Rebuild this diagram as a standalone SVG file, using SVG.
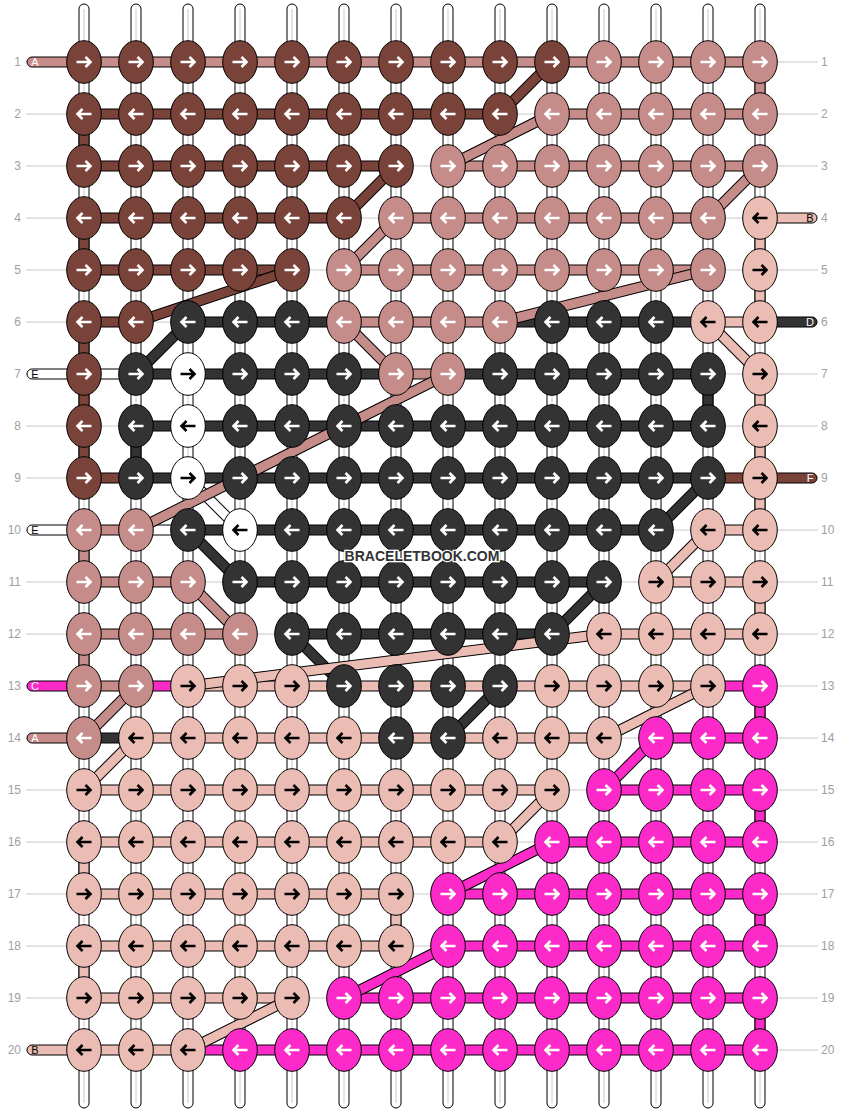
<svg xmlns="http://www.w3.org/2000/svg" xmlns:xlink="http://www.w3.org/1999/xlink" width="844" height="1112" viewBox="0 0 844 1112">
<style>
.b{fill:#7a4339}.p{fill:#c68c89}.l{fill:#eabcb3}.g{fill:#333333}.w{fill:#ffffff}.m{fill:#fb2ac9}
ellipse{rx:17.3px;ry:21.3px;stroke:#000;stroke-width:1}
use{stroke:#fff}
.l use,.w use{stroke:#000}
#bars rect,#vsegs rect,#pills path{stroke:#000;stroke-width:1}
#strings rect{fill:#fff;stroke:#000;stroke-width:1}
#strings line{stroke:#c8c8c8;stroke-width:1}
.o{fill:none;stroke:#000;stroke-width:11}
.d{fill:none;stroke-width:9}
.sb{stroke:#7a4339}.sp{stroke:#c68c89}.sl{stroke:#eabcb3}.sg{stroke:#333333}.sw{stroke:#ffffff}.sm{stroke:#fb2ac9}
.rl{font-family:"Liberation Sans",Arial,sans-serif;font-size:12px;fill:#a0a0a0}
.pt{font-family:"Liberation Sans",Arial,sans-serif;font-size:11px;text-anchor:middle}
</style>
<defs>
<path id="R" d="M-7.5,0H5M1.5,-5L6.5,0L1.5,5" fill="none" stroke-width="2.6"/>
<path id="L" d="M7.5,0H-5M-1.5,-5L-6.5,0L-1.5,5" fill="none" stroke-width="2.6"/>
</defs>
<rect width="844" height="1112" fill="#fff"/>
<g id="guides" stroke="#c8c8c8" stroke-width="1" fill="none">
<path d="M26,62H818M26,114H818M26,166H818M26,218H818M26,270H818M26,322H818M26,374H818M26,426H818M26,478H818M26,530H818M26,582H818M26,634H818M26,686H818M26,738H818M26,790H818M26,842H818M26,894H818M26,946H818M26,998H818M26,1050H818"/>
</g>
<g id="strings">
<rect x="79" y="4" width="10" height="1104" rx="5"/><line x1="84" y1="9" x2="84" y2="1103"/>
<rect x="131" y="4" width="10" height="1104" rx="5"/><line x1="136" y1="9" x2="136" y2="1103"/>
<rect x="183" y="4" width="10" height="1104" rx="5"/><line x1="188" y1="9" x2="188" y2="1103"/>
<rect x="235" y="4" width="10" height="1104" rx="5"/><line x1="240" y1="9" x2="240" y2="1103"/>
<rect x="287" y="4" width="10" height="1104" rx="5"/><line x1="292" y1="9" x2="292" y2="1103"/>
<rect x="339" y="4" width="10" height="1104" rx="5"/><line x1="344" y1="9" x2="344" y2="1103"/>
<rect x="391" y="4" width="10" height="1104" rx="5"/><line x1="396" y1="9" x2="396" y2="1103"/>
<rect x="443" y="4" width="10" height="1104" rx="5"/><line x1="448" y1="9" x2="448" y2="1103"/>
<rect x="495" y="4" width="10" height="1104" rx="5"/><line x1="500" y1="9" x2="500" y2="1103"/>
<rect x="547" y="4" width="10" height="1104" rx="5"/><line x1="552" y1="9" x2="552" y2="1103"/>
<rect x="599" y="4" width="10" height="1104" rx="5"/><line x1="604" y1="9" x2="604" y2="1103"/>
<rect x="651" y="4" width="10" height="1104" rx="5"/><line x1="656" y1="9" x2="656" y2="1103"/>
<rect x="703" y="4" width="10" height="1104" rx="5"/><line x1="708" y1="9" x2="708" y2="1103"/>
<rect x="755" y="4" width="10" height="1104" rx="5"/><line x1="760" y1="9" x2="760" y2="1103"/>
</g>
<g id="connectors">
<g id="bars">
<rect class="p" x="84" y="57" width="676" height="10"/>
<rect class="b" x="84" y="109" width="416" height="10"/><rect class="p" x="552" y="109" width="208" height="10"/>
<rect class="b" x="84" y="161" width="312" height="10"/><rect class="p" x="448" y="161" width="312" height="10"/>
<rect class="b" x="84" y="213" width="260" height="10"/><rect class="p" x="396" y="213" width="312" height="10"/>
<rect class="b" x="84" y="265" width="208" height="10"/><rect class="p" x="344" y="265" width="364" height="10"/>
<rect class="b" x="84" y="317" width="52" height="10"/><rect class="g" x="188" y="317" width="156" height="10"/><rect class="p" x="344" y="317" width="156" height="10"/><rect class="g" x="500" y="317" width="208" height="10"/><rect class="l" x="708" y="317" width="52" height="10"/>
<rect class="w" x="84" y="369" width="52" height="10"/><rect class="g" x="136" y="369" width="260" height="10"/><rect class="p" x="396" y="369" width="52" height="10"/><rect class="g" x="448" y="369" width="260" height="10"/>
<rect class="g" x="136" y="421" width="572" height="10"/>
<rect class="b" x="84" y="473" width="52" height="10"/><rect class="g" x="136" y="473" width="572" height="10"/><rect class="b" x="708" y="473" width="52" height="10"/>
<rect class="p" x="84" y="525" width="52" height="10"/><rect class="w" x="136" y="525" width="52" height="10"/><rect class="g" x="188" y="525" width="468" height="10"/><rect class="l" x="708" y="525" width="52" height="10"/>
<rect class="p" x="84" y="577" width="104" height="10"/><rect class="g" x="240" y="577" width="364" height="10"/><rect class="l" x="656" y="577" width="104" height="10"/>
<rect class="p" x="84" y="629" width="156" height="10"/><rect class="g" x="292" y="629" width="260" height="10"/><rect class="l" x="604" y="629" width="156" height="10"/>
<rect class="p" x="84" y="681" width="52" height="10"/><rect class="m" x="136" y="681" width="52" height="10"/><rect class="l" x="188" y="681" width="520" height="10"/><rect class="m" x="708" y="681" width="52" height="10"/>
<rect class="g" x="84" y="733" width="52" height="10"/><rect class="l" x="136" y="733" width="468" height="10"/><rect class="m" x="656" y="733" width="104" height="10"/>
<rect class="l" x="84" y="785" width="468" height="10"/><rect class="m" x="604" y="785" width="156" height="10"/>
<rect class="l" x="84" y="837" width="416" height="10"/><rect class="m" x="552" y="837" width="208" height="10"/>
<rect class="l" x="84" y="889" width="312" height="10"/><rect class="m" x="448" y="889" width="312" height="10"/>
<rect class="l" x="84" y="941" width="312" height="10"/><rect class="m" x="448" y="941" width="312" height="10"/>
<rect class="l" x="84" y="993" width="208" height="10"/><rect class="m" x="344" y="993" width="416" height="10"/>
<rect class="l" x="84" y="1045" width="104" height="10"/><rect class="m" x="188" y="1045" width="572" height="10"/>
</g>
<g id="vsegs">
<rect class="b" x="79" y="114" width="10" height="52"/>
<rect class="b" x="79" y="218" width="10" height="52"/>
<rect class="b" x="79" y="322" width="10" height="52"/>
<rect class="b" x="79" y="374" width="10" height="52"/>
<rect class="b" x="79" y="426" width="10" height="52"/>
<rect class="p" x="79" y="530" width="10" height="52"/>
<rect class="p" x="79" y="634" width="10" height="52"/>
<rect class="l" x="79" y="842" width="10" height="52"/>
<rect class="l" x="79" y="946" width="10" height="52"/>
<rect class="p" x="755" y="62" width="10" height="52"/>
<rect class="l" x="755" y="218" width="10" height="52"/>
<rect class="l" x="755" y="270" width="10" height="52"/>
<rect class="l" x="755" y="374" width="10" height="52"/>
<rect class="l" x="755" y="426" width="10" height="52"/>
<rect class="l" x="755" y="478" width="10" height="52"/>
<rect class="l" x="755" y="582" width="10" height="52"/>
<rect class="m" x="755" y="686" width="10" height="52"/>
<rect class="m" x="755" y="790" width="10" height="52"/>
<rect class="m" x="755" y="894" width="10" height="52"/>
<rect class="m" x="755" y="998" width="10" height="52"/>
<rect class="g" x="131" y="426" width="10" height="52"/>
<rect class="g" x="703" y="374" width="10" height="52"/>
<rect class="l" x="391" y="894" width="10" height="52"/>
</g>
<g id="diagonals">
<path class="o" d="M552,62L500,114"/><path class="d sb" d="M552,62L500,114"/>
<path class="o" d="M552,114L448,166"/><path class="d sp" d="M552,114L448,166"/>
<path class="o" d="M396,166L344,218"/><path class="d sb" d="M396,166L344,218"/>
<path class="o" d="M760,166L708,218"/><path class="d sp" d="M760,166L708,218"/>
<path class="o" d="M396,218L344,270"/><path class="d sp" d="M396,218L344,270"/>
<path class="o" d="M292,270L136,322"/><path class="d sb" d="M292,270L136,322"/>
<path class="o" d="M708,270L500,322"/><path class="d sp" d="M708,270L500,322"/>
<path class="o" d="M188,322L136,374"/><path class="d sg" d="M188,322L136,374"/>
<path class="o" d="M344,322L396,374"/><path class="d sp" d="M344,322L396,374"/>
<path class="o" d="M708,322L760,374"/><path class="d sl" d="M708,322L760,374"/>
<path class="o" d="M188,478L240,530"/><path class="d sw" d="M188,478L240,530"/>
<path class="o" d="M448,374L136,530"/><path class="d sp" d="M448,374L136,530"/>
<path class="o" d="M708,478L656,530"/><path class="d sg" d="M708,478L656,530"/>
<path class="o" d="M188,530L240,582"/><path class="d sg" d="M188,530L240,582"/>
<path class="o" d="M708,530L656,582"/><path class="d sl" d="M708,530L656,582"/>
<path class="o" d="M188,582L240,634"/><path class="d sp" d="M188,582L240,634"/>
<path class="o" d="M604,582L552,634"/><path class="d sg" d="M604,582L552,634"/>
<path class="o" d="M292,634L344,686"/><path class="d sg" d="M292,634L344,686"/>
<path class="o" d="M604,634L188,686"/><path class="d sl" d="M604,634L188,686"/>
<path class="o" d="M136,686L84,738"/><path class="d sp" d="M136,686L84,738"/>
<path class="o" d="M500,686L448,738"/><path class="d sg" d="M500,686L448,738"/>
<path class="o" d="M708,686L604,738"/><path class="d sl" d="M708,686L604,738"/>
<path class="o" d="M136,738L84,790"/><path class="d sl" d="M136,738L84,790"/>
<path class="o" d="M656,738L604,790"/><path class="d sm" d="M656,738L604,790"/>
<path class="o" d="M552,790L500,842"/><path class="d sl" d="M552,790L500,842"/>
<path class="o" d="M552,842L448,894"/><path class="d sm" d="M552,842L448,894"/>
<path class="o" d="M448,946L344,998"/><path class="d sm" d="M448,946L344,998"/>
<path class="o" d="M292,998L188,1050"/><path class="d sl" d="M292,998L188,1050"/>
</g>
<g id="pills">
<path class="p" d="M84,57H32A5,5 0 0 0 32,67H84Z"/>
<path class="w" d="M84,369H32A5,5 0 0 0 32,379H84Z"/>
<path class="w" d="M84,525H32A5,5 0 0 0 32,535H84Z"/>
<path class="m" d="M84,681H32A5,5 0 0 0 32,691H84Z"/>
<path class="p" d="M84,733H32A5,5 0 0 0 32,743H84Z"/>
<path class="l" d="M84,1045H32A5,5 0 0 0 32,1055H84Z"/>
<path class="l" d="M760,213H812A5,5 0 0 1 812,223H760Z"/>
<path class="g" d="M760,317H812A5,5 0 0 1 812,327H760Z"/>
<path class="b" d="M760,473H812A5,5 0 0 1 812,483H760Z"/>
</g>
</g>
<g id="pill-labels">
<text class="pt" x="35" y="66" fill="#fff">A</text>
<text class="pt" x="35" y="378" fill="#000">E</text>
<text class="pt" x="35" y="534" fill="#000">E</text>
<text class="pt" x="35" y="690" fill="#fff">C</text>
<text class="pt" x="35" y="742" fill="#fff">A</text>
<text class="pt" x="35" y="1054" fill="#000">B</text>
<text class="pt" x="810" y="222" fill="#000">B</text>
<text class="pt" x="810" y="326" fill="#fff">D</text>
<text class="pt" x="810" y="482" fill="#fff">F</text>
</g>
<g id="knots">
<g id="k1-1" class="b"><ellipse cx="84" cy="62"/><use href="#R" x="84" y="62"/></g>
<g id="k1-2" class="b"><ellipse cx="136" cy="62"/><use href="#R" x="136" y="62"/></g>
<g id="k1-3" class="b"><ellipse cx="188" cy="62"/><use href="#R" x="188" y="62"/></g>
<g id="k1-4" class="b"><ellipse cx="240" cy="62"/><use href="#R" x="240" y="62"/></g>
<g id="k1-5" class="b"><ellipse cx="292" cy="62"/><use href="#R" x="292" y="62"/></g>
<g id="k1-6" class="b"><ellipse cx="344" cy="62"/><use href="#R" x="344" y="62"/></g>
<g id="k1-7" class="b"><ellipse cx="396" cy="62"/><use href="#R" x="396" y="62"/></g>
<g id="k1-8" class="b"><ellipse cx="448" cy="62"/><use href="#R" x="448" y="62"/></g>
<g id="k1-9" class="b"><ellipse cx="500" cy="62"/><use href="#R" x="500" y="62"/></g>
<g id="k1-10" class="b"><ellipse cx="552" cy="62"/><use href="#R" x="552" y="62"/></g>
<g id="k1-11" class="p"><ellipse cx="604" cy="62"/><use href="#R" x="604" y="62"/></g>
<g id="k1-12" class="p"><ellipse cx="656" cy="62"/><use href="#R" x="656" y="62"/></g>
<g id="k1-13" class="p"><ellipse cx="708" cy="62"/><use href="#R" x="708" y="62"/></g>
<g id="k1-14" class="p"><ellipse cx="760" cy="62"/><use href="#R" x="760" y="62"/></g>
<g id="k2-1" class="b"><ellipse cx="84" cy="114"/><use href="#L" x="84" y="114"/></g>
<g id="k2-2" class="b"><ellipse cx="136" cy="114"/><use href="#L" x="136" y="114"/></g>
<g id="k2-3" class="b"><ellipse cx="188" cy="114"/><use href="#L" x="188" y="114"/></g>
<g id="k2-4" class="b"><ellipse cx="240" cy="114"/><use href="#L" x="240" y="114"/></g>
<g id="k2-5" class="b"><ellipse cx="292" cy="114"/><use href="#L" x="292" y="114"/></g>
<g id="k2-6" class="b"><ellipse cx="344" cy="114"/><use href="#L" x="344" y="114"/></g>
<g id="k2-7" class="b"><ellipse cx="396" cy="114"/><use href="#L" x="396" y="114"/></g>
<g id="k2-8" class="b"><ellipse cx="448" cy="114"/><use href="#L" x="448" y="114"/></g>
<g id="k2-9" class="b"><ellipse cx="500" cy="114"/><use href="#L" x="500" y="114"/></g>
<g id="k2-10" class="p"><ellipse cx="552" cy="114"/><use href="#L" x="552" y="114"/></g>
<g id="k2-11" class="p"><ellipse cx="604" cy="114"/><use href="#L" x="604" y="114"/></g>
<g id="k2-12" class="p"><ellipse cx="656" cy="114"/><use href="#L" x="656" y="114"/></g>
<g id="k2-13" class="p"><ellipse cx="708" cy="114"/><use href="#L" x="708" y="114"/></g>
<g id="k2-14" class="p"><ellipse cx="760" cy="114"/><use href="#L" x="760" y="114"/></g>
<g id="k3-1" class="b"><ellipse cx="84" cy="166"/><use href="#R" x="84" y="166"/></g>
<g id="k3-2" class="b"><ellipse cx="136" cy="166"/><use href="#R" x="136" y="166"/></g>
<g id="k3-3" class="b"><ellipse cx="188" cy="166"/><use href="#R" x="188" y="166"/></g>
<g id="k3-4" class="b"><ellipse cx="240" cy="166"/><use href="#R" x="240" y="166"/></g>
<g id="k3-5" class="b"><ellipse cx="292" cy="166"/><use href="#R" x="292" y="166"/></g>
<g id="k3-6" class="b"><ellipse cx="344" cy="166"/><use href="#R" x="344" y="166"/></g>
<g id="k3-7" class="b"><ellipse cx="396" cy="166"/><use href="#R" x="396" y="166"/></g>
<g id="k3-8" class="p"><ellipse cx="448" cy="166"/><use href="#R" x="448" y="166"/></g>
<g id="k3-9" class="p"><ellipse cx="500" cy="166"/><use href="#R" x="500" y="166"/></g>
<g id="k3-10" class="p"><ellipse cx="552" cy="166"/><use href="#R" x="552" y="166"/></g>
<g id="k3-11" class="p"><ellipse cx="604" cy="166"/><use href="#R" x="604" y="166"/></g>
<g id="k3-12" class="p"><ellipse cx="656" cy="166"/><use href="#R" x="656" y="166"/></g>
<g id="k3-13" class="p"><ellipse cx="708" cy="166"/><use href="#R" x="708" y="166"/></g>
<g id="k3-14" class="p"><ellipse cx="760" cy="166"/><use href="#R" x="760" y="166"/></g>
<g id="k4-1" class="b"><ellipse cx="84" cy="218"/><use href="#L" x="84" y="218"/></g>
<g id="k4-2" class="b"><ellipse cx="136" cy="218"/><use href="#L" x="136" y="218"/></g>
<g id="k4-3" class="b"><ellipse cx="188" cy="218"/><use href="#L" x="188" y="218"/></g>
<g id="k4-4" class="b"><ellipse cx="240" cy="218"/><use href="#L" x="240" y="218"/></g>
<g id="k4-5" class="b"><ellipse cx="292" cy="218"/><use href="#L" x="292" y="218"/></g>
<g id="k4-6" class="b"><ellipse cx="344" cy="218"/><use href="#L" x="344" y="218"/></g>
<g id="k4-7" class="p"><ellipse cx="396" cy="218"/><use href="#L" x="396" y="218"/></g>
<g id="k4-8" class="p"><ellipse cx="448" cy="218"/><use href="#L" x="448" y="218"/></g>
<g id="k4-9" class="p"><ellipse cx="500" cy="218"/><use href="#L" x="500" y="218"/></g>
<g id="k4-10" class="p"><ellipse cx="552" cy="218"/><use href="#L" x="552" y="218"/></g>
<g id="k4-11" class="p"><ellipse cx="604" cy="218"/><use href="#L" x="604" y="218"/></g>
<g id="k4-12" class="p"><ellipse cx="656" cy="218"/><use href="#L" x="656" y="218"/></g>
<g id="k4-13" class="p"><ellipse cx="708" cy="218"/><use href="#L" x="708" y="218"/></g>
<g id="k4-14" class="l"><ellipse cx="760" cy="218"/><use href="#L" x="760" y="218"/></g>
<g id="k5-1" class="b"><ellipse cx="84" cy="270"/><use href="#R" x="84" y="270"/></g>
<g id="k5-2" class="b"><ellipse cx="136" cy="270"/><use href="#R" x="136" y="270"/></g>
<g id="k5-3" class="b"><ellipse cx="188" cy="270"/><use href="#R" x="188" y="270"/></g>
<g id="k5-4" class="b"><ellipse cx="240" cy="270"/><use href="#R" x="240" y="270"/></g>
<g id="k5-5" class="b"><ellipse cx="292" cy="270"/><use href="#R" x="292" y="270"/></g>
<g id="k5-6" class="p"><ellipse cx="344" cy="270"/><use href="#R" x="344" y="270"/></g>
<g id="k5-7" class="p"><ellipse cx="396" cy="270"/><use href="#R" x="396" y="270"/></g>
<g id="k5-8" class="p"><ellipse cx="448" cy="270"/><use href="#R" x="448" y="270"/></g>
<g id="k5-9" class="p"><ellipse cx="500" cy="270"/><use href="#R" x="500" y="270"/></g>
<g id="k5-10" class="p"><ellipse cx="552" cy="270"/><use href="#R" x="552" y="270"/></g>
<g id="k5-11" class="p"><ellipse cx="604" cy="270"/><use href="#R" x="604" y="270"/></g>
<g id="k5-12" class="p"><ellipse cx="656" cy="270"/><use href="#R" x="656" y="270"/></g>
<g id="k5-13" class="p"><ellipse cx="708" cy="270"/><use href="#R" x="708" y="270"/></g>
<g id="k5-14" class="l"><ellipse cx="760" cy="270"/><use href="#R" x="760" y="270"/></g>
<g id="k6-1" class="b"><ellipse cx="84" cy="322"/><use href="#L" x="84" y="322"/></g>
<g id="k6-2" class="b"><ellipse cx="136" cy="322"/><use href="#L" x="136" y="322"/></g>
<g id="k6-3" class="g"><ellipse cx="188" cy="322"/><use href="#L" x="188" y="322"/></g>
<g id="k6-4" class="g"><ellipse cx="240" cy="322"/><use href="#L" x="240" y="322"/></g>
<g id="k6-5" class="g"><ellipse cx="292" cy="322"/><use href="#L" x="292" y="322"/></g>
<g id="k6-6" class="p"><ellipse cx="344" cy="322"/><use href="#L" x="344" y="322"/></g>
<g id="k6-7" class="p"><ellipse cx="396" cy="322"/><use href="#L" x="396" y="322"/></g>
<g id="k6-8" class="p"><ellipse cx="448" cy="322"/><use href="#L" x="448" y="322"/></g>
<g id="k6-9" class="p"><ellipse cx="500" cy="322"/><use href="#L" x="500" y="322"/></g>
<g id="k6-10" class="g"><ellipse cx="552" cy="322"/><use href="#L" x="552" y="322"/></g>
<g id="k6-11" class="g"><ellipse cx="604" cy="322"/><use href="#L" x="604" y="322"/></g>
<g id="k6-12" class="g"><ellipse cx="656" cy="322"/><use href="#L" x="656" y="322"/></g>
<g id="k6-13" class="l"><ellipse cx="708" cy="322"/><use href="#L" x="708" y="322"/></g>
<g id="k6-14" class="l"><ellipse cx="760" cy="322"/><use href="#L" x="760" y="322"/></g>
<g id="k7-1" class="b"><ellipse cx="84" cy="374"/><use href="#R" x="84" y="374"/></g>
<g id="k7-2" class="g"><ellipse cx="136" cy="374"/><use href="#R" x="136" y="374"/></g>
<g id="k7-3" class="w"><ellipse cx="188" cy="374"/><use href="#R" x="188" y="374"/></g>
<g id="k7-4" class="g"><ellipse cx="240" cy="374"/><use href="#R" x="240" y="374"/></g>
<g id="k7-5" class="g"><ellipse cx="292" cy="374"/><use href="#R" x="292" y="374"/></g>
<g id="k7-6" class="g"><ellipse cx="344" cy="374"/><use href="#R" x="344" y="374"/></g>
<g id="k7-7" class="p"><ellipse cx="396" cy="374"/><use href="#R" x="396" y="374"/></g>
<g id="k7-8" class="p"><ellipse cx="448" cy="374"/><use href="#R" x="448" y="374"/></g>
<g id="k7-9" class="g"><ellipse cx="500" cy="374"/><use href="#R" x="500" y="374"/></g>
<g id="k7-10" class="g"><ellipse cx="552" cy="374"/><use href="#R" x="552" y="374"/></g>
<g id="k7-11" class="g"><ellipse cx="604" cy="374"/><use href="#R" x="604" y="374"/></g>
<g id="k7-12" class="g"><ellipse cx="656" cy="374"/><use href="#R" x="656" y="374"/></g>
<g id="k7-13" class="g"><ellipse cx="708" cy="374"/><use href="#R" x="708" y="374"/></g>
<g id="k7-14" class="l"><ellipse cx="760" cy="374"/><use href="#R" x="760" y="374"/></g>
<g id="k8-1" class="b"><ellipse cx="84" cy="426"/><use href="#L" x="84" y="426"/></g>
<g id="k8-2" class="g"><ellipse cx="136" cy="426"/><use href="#L" x="136" y="426"/></g>
<g id="k8-3" class="w"><ellipse cx="188" cy="426"/><use href="#L" x="188" y="426"/></g>
<g id="k8-4" class="g"><ellipse cx="240" cy="426"/><use href="#L" x="240" y="426"/></g>
<g id="k8-5" class="g"><ellipse cx="292" cy="426"/><use href="#L" x="292" y="426"/></g>
<g id="k8-6" class="g"><ellipse cx="344" cy="426"/><use href="#L" x="344" y="426"/></g>
<g id="k8-7" class="g"><ellipse cx="396" cy="426"/><use href="#L" x="396" y="426"/></g>
<g id="k8-8" class="g"><ellipse cx="448" cy="426"/><use href="#L" x="448" y="426"/></g>
<g id="k8-9" class="g"><ellipse cx="500" cy="426"/><use href="#L" x="500" y="426"/></g>
<g id="k8-10" class="g"><ellipse cx="552" cy="426"/><use href="#L" x="552" y="426"/></g>
<g id="k8-11" class="g"><ellipse cx="604" cy="426"/><use href="#L" x="604" y="426"/></g>
<g id="k8-12" class="g"><ellipse cx="656" cy="426"/><use href="#L" x="656" y="426"/></g>
<g id="k8-13" class="g"><ellipse cx="708" cy="426"/><use href="#L" x="708" y="426"/></g>
<g id="k8-14" class="l"><ellipse cx="760" cy="426"/><use href="#L" x="760" y="426"/></g>
<g id="k9-1" class="b"><ellipse cx="84" cy="478"/><use href="#R" x="84" y="478"/></g>
<g id="k9-2" class="g"><ellipse cx="136" cy="478"/><use href="#R" x="136" y="478"/></g>
<g id="k9-3" class="w"><ellipse cx="188" cy="478"/><use href="#R" x="188" y="478"/></g>
<g id="k9-4" class="g"><ellipse cx="240" cy="478"/><use href="#R" x="240" y="478"/></g>
<g id="k9-5" class="g"><ellipse cx="292" cy="478"/><use href="#R" x="292" y="478"/></g>
<g id="k9-6" class="g"><ellipse cx="344" cy="478"/><use href="#R" x="344" y="478"/></g>
<g id="k9-7" class="g"><ellipse cx="396" cy="478"/><use href="#R" x="396" y="478"/></g>
<g id="k9-8" class="g"><ellipse cx="448" cy="478"/><use href="#R" x="448" y="478"/></g>
<g id="k9-9" class="g"><ellipse cx="500" cy="478"/><use href="#R" x="500" y="478"/></g>
<g id="k9-10" class="g"><ellipse cx="552" cy="478"/><use href="#R" x="552" y="478"/></g>
<g id="k9-11" class="g"><ellipse cx="604" cy="478"/><use href="#R" x="604" y="478"/></g>
<g id="k9-12" class="g"><ellipse cx="656" cy="478"/><use href="#R" x="656" y="478"/></g>
<g id="k9-13" class="g"><ellipse cx="708" cy="478"/><use href="#R" x="708" y="478"/></g>
<g id="k9-14" class="l"><ellipse cx="760" cy="478"/><use href="#R" x="760" y="478"/></g>
<g id="k10-1" class="p"><ellipse cx="84" cy="530"/><use href="#L" x="84" y="530"/></g>
<g id="k10-2" class="p"><ellipse cx="136" cy="530"/><use href="#L" x="136" y="530"/></g>
<g id="k10-3" class="g"><ellipse cx="188" cy="530"/><use href="#L" x="188" y="530"/></g>
<g id="k10-4" class="w"><ellipse cx="240" cy="530"/><use href="#L" x="240" y="530"/></g>
<g id="k10-5" class="g"><ellipse cx="292" cy="530"/><use href="#L" x="292" y="530"/></g>
<g id="k10-6" class="g"><ellipse cx="344" cy="530"/><use href="#L" x="344" y="530"/></g>
<g id="k10-7" class="g"><ellipse cx="396" cy="530"/><use href="#L" x="396" y="530"/></g>
<g id="k10-8" class="g"><ellipse cx="448" cy="530"/><use href="#L" x="448" y="530"/></g>
<g id="k10-9" class="g"><ellipse cx="500" cy="530"/><use href="#L" x="500" y="530"/></g>
<g id="k10-10" class="g"><ellipse cx="552" cy="530"/><use href="#L" x="552" y="530"/></g>
<g id="k10-11" class="g"><ellipse cx="604" cy="530"/><use href="#L" x="604" y="530"/></g>
<g id="k10-12" class="g"><ellipse cx="656" cy="530"/><use href="#L" x="656" y="530"/></g>
<g id="k10-13" class="l"><ellipse cx="708" cy="530"/><use href="#L" x="708" y="530"/></g>
<g id="k10-14" class="l"><ellipse cx="760" cy="530"/><use href="#L" x="760" y="530"/></g>
<g id="k11-1" class="p"><ellipse cx="84" cy="582"/><use href="#R" x="84" y="582"/></g>
<g id="k11-2" class="p"><ellipse cx="136" cy="582"/><use href="#R" x="136" y="582"/></g>
<g id="k11-3" class="p"><ellipse cx="188" cy="582"/><use href="#R" x="188" y="582"/></g>
<g id="k11-4" class="g"><ellipse cx="240" cy="582"/><use href="#R" x="240" y="582"/></g>
<g id="k11-5" class="g"><ellipse cx="292" cy="582"/><use href="#R" x="292" y="582"/></g>
<g id="k11-6" class="g"><ellipse cx="344" cy="582"/><use href="#R" x="344" y="582"/></g>
<g id="k11-7" class="g"><ellipse cx="396" cy="582"/><use href="#R" x="396" y="582"/></g>
<g id="k11-8" class="g"><ellipse cx="448" cy="582"/><use href="#R" x="448" y="582"/></g>
<g id="k11-9" class="g"><ellipse cx="500" cy="582"/><use href="#R" x="500" y="582"/></g>
<g id="k11-10" class="g"><ellipse cx="552" cy="582"/><use href="#R" x="552" y="582"/></g>
<g id="k11-11" class="g"><ellipse cx="604" cy="582"/><use href="#R" x="604" y="582"/></g>
<g id="k11-12" class="l"><ellipse cx="656" cy="582"/><use href="#R" x="656" y="582"/></g>
<g id="k11-13" class="l"><ellipse cx="708" cy="582"/><use href="#R" x="708" y="582"/></g>
<g id="k11-14" class="l"><ellipse cx="760" cy="582"/><use href="#R" x="760" y="582"/></g>
<g id="k12-1" class="p"><ellipse cx="84" cy="634"/><use href="#L" x="84" y="634"/></g>
<g id="k12-2" class="p"><ellipse cx="136" cy="634"/><use href="#L" x="136" y="634"/></g>
<g id="k12-3" class="p"><ellipse cx="188" cy="634"/><use href="#L" x="188" y="634"/></g>
<g id="k12-4" class="p"><ellipse cx="240" cy="634"/><use href="#L" x="240" y="634"/></g>
<g id="k12-5" class="g"><ellipse cx="292" cy="634"/><use href="#L" x="292" y="634"/></g>
<g id="k12-6" class="g"><ellipse cx="344" cy="634"/><use href="#L" x="344" y="634"/></g>
<g id="k12-7" class="g"><ellipse cx="396" cy="634"/><use href="#L" x="396" y="634"/></g>
<g id="k12-8" class="g"><ellipse cx="448" cy="634"/><use href="#L" x="448" y="634"/></g>
<g id="k12-9" class="g"><ellipse cx="500" cy="634"/><use href="#L" x="500" y="634"/></g>
<g id="k12-10" class="g"><ellipse cx="552" cy="634"/><use href="#L" x="552" y="634"/></g>
<g id="k12-11" class="l"><ellipse cx="604" cy="634"/><use href="#L" x="604" y="634"/></g>
<g id="k12-12" class="l"><ellipse cx="656" cy="634"/><use href="#L" x="656" y="634"/></g>
<g id="k12-13" class="l"><ellipse cx="708" cy="634"/><use href="#L" x="708" y="634"/></g>
<g id="k12-14" class="l"><ellipse cx="760" cy="634"/><use href="#L" x="760" y="634"/></g>
<g id="k13-1" class="p"><ellipse cx="84" cy="686"/><use href="#R" x="84" y="686"/></g>
<g id="k13-2" class="p"><ellipse cx="136" cy="686"/><use href="#R" x="136" y="686"/></g>
<g id="k13-3" class="l"><ellipse cx="188" cy="686"/><use href="#R" x="188" y="686"/></g>
<g id="k13-4" class="l"><ellipse cx="240" cy="686"/><use href="#R" x="240" y="686"/></g>
<g id="k13-5" class="l"><ellipse cx="292" cy="686"/><use href="#R" x="292" y="686"/></g>
<g id="k13-6" class="g"><ellipse cx="344" cy="686"/><use href="#R" x="344" y="686"/></g>
<g id="k13-7" class="g"><ellipse cx="396" cy="686"/><use href="#R" x="396" y="686"/></g>
<g id="k13-8" class="g"><ellipse cx="448" cy="686"/><use href="#R" x="448" y="686"/></g>
<g id="k13-9" class="g"><ellipse cx="500" cy="686"/><use href="#R" x="500" y="686"/></g>
<g id="k13-10" class="l"><ellipse cx="552" cy="686"/><use href="#R" x="552" y="686"/></g>
<g id="k13-11" class="l"><ellipse cx="604" cy="686"/><use href="#R" x="604" y="686"/></g>
<g id="k13-12" class="l"><ellipse cx="656" cy="686"/><use href="#R" x="656" y="686"/></g>
<g id="k13-13" class="l"><ellipse cx="708" cy="686"/><use href="#R" x="708" y="686"/></g>
<g id="k13-14" class="m"><ellipse cx="760" cy="686"/><use href="#R" x="760" y="686"/></g>
<g id="k14-1" class="p"><ellipse cx="84" cy="738"/><use href="#L" x="84" y="738"/></g>
<g id="k14-2" class="l"><ellipse cx="136" cy="738"/><use href="#L" x="136" y="738"/></g>
<g id="k14-3" class="l"><ellipse cx="188" cy="738"/><use href="#L" x="188" y="738"/></g>
<g id="k14-4" class="l"><ellipse cx="240" cy="738"/><use href="#L" x="240" y="738"/></g>
<g id="k14-5" class="l"><ellipse cx="292" cy="738"/><use href="#L" x="292" y="738"/></g>
<g id="k14-6" class="l"><ellipse cx="344" cy="738"/><use href="#L" x="344" y="738"/></g>
<g id="k14-7" class="g"><ellipse cx="396" cy="738"/><use href="#L" x="396" y="738"/></g>
<g id="k14-8" class="g"><ellipse cx="448" cy="738"/><use href="#L" x="448" y="738"/></g>
<g id="k14-9" class="l"><ellipse cx="500" cy="738"/><use href="#L" x="500" y="738"/></g>
<g id="k14-10" class="l"><ellipse cx="552" cy="738"/><use href="#L" x="552" y="738"/></g>
<g id="k14-11" class="l"><ellipse cx="604" cy="738"/><use href="#L" x="604" y="738"/></g>
<g id="k14-12" class="m"><ellipse cx="656" cy="738"/><use href="#L" x="656" y="738"/></g>
<g id="k14-13" class="m"><ellipse cx="708" cy="738"/><use href="#L" x="708" y="738"/></g>
<g id="k14-14" class="m"><ellipse cx="760" cy="738"/><use href="#L" x="760" y="738"/></g>
<g id="k15-1" class="l"><ellipse cx="84" cy="790"/><use href="#R" x="84" y="790"/></g>
<g id="k15-2" class="l"><ellipse cx="136" cy="790"/><use href="#R" x="136" y="790"/></g>
<g id="k15-3" class="l"><ellipse cx="188" cy="790"/><use href="#R" x="188" y="790"/></g>
<g id="k15-4" class="l"><ellipse cx="240" cy="790"/><use href="#R" x="240" y="790"/></g>
<g id="k15-5" class="l"><ellipse cx="292" cy="790"/><use href="#R" x="292" y="790"/></g>
<g id="k15-6" class="l"><ellipse cx="344" cy="790"/><use href="#R" x="344" y="790"/></g>
<g id="k15-7" class="l"><ellipse cx="396" cy="790"/><use href="#R" x="396" y="790"/></g>
<g id="k15-8" class="l"><ellipse cx="448" cy="790"/><use href="#R" x="448" y="790"/></g>
<g id="k15-9" class="l"><ellipse cx="500" cy="790"/><use href="#R" x="500" y="790"/></g>
<g id="k15-10" class="l"><ellipse cx="552" cy="790"/><use href="#R" x="552" y="790"/></g>
<g id="k15-11" class="m"><ellipse cx="604" cy="790"/><use href="#R" x="604" y="790"/></g>
<g id="k15-12" class="m"><ellipse cx="656" cy="790"/><use href="#R" x="656" y="790"/></g>
<g id="k15-13" class="m"><ellipse cx="708" cy="790"/><use href="#R" x="708" y="790"/></g>
<g id="k15-14" class="m"><ellipse cx="760" cy="790"/><use href="#R" x="760" y="790"/></g>
<g id="k16-1" class="l"><ellipse cx="84" cy="842"/><use href="#L" x="84" y="842"/></g>
<g id="k16-2" class="l"><ellipse cx="136" cy="842"/><use href="#L" x="136" y="842"/></g>
<g id="k16-3" class="l"><ellipse cx="188" cy="842"/><use href="#L" x="188" y="842"/></g>
<g id="k16-4" class="l"><ellipse cx="240" cy="842"/><use href="#L" x="240" y="842"/></g>
<g id="k16-5" class="l"><ellipse cx="292" cy="842"/><use href="#L" x="292" y="842"/></g>
<g id="k16-6" class="l"><ellipse cx="344" cy="842"/><use href="#L" x="344" y="842"/></g>
<g id="k16-7" class="l"><ellipse cx="396" cy="842"/><use href="#L" x="396" y="842"/></g>
<g id="k16-8" class="l"><ellipse cx="448" cy="842"/><use href="#L" x="448" y="842"/></g>
<g id="k16-9" class="l"><ellipse cx="500" cy="842"/><use href="#L" x="500" y="842"/></g>
<g id="k16-10" class="m"><ellipse cx="552" cy="842"/><use href="#L" x="552" y="842"/></g>
<g id="k16-11" class="m"><ellipse cx="604" cy="842"/><use href="#L" x="604" y="842"/></g>
<g id="k16-12" class="m"><ellipse cx="656" cy="842"/><use href="#L" x="656" y="842"/></g>
<g id="k16-13" class="m"><ellipse cx="708" cy="842"/><use href="#L" x="708" y="842"/></g>
<g id="k16-14" class="m"><ellipse cx="760" cy="842"/><use href="#L" x="760" y="842"/></g>
<g id="k17-1" class="l"><ellipse cx="84" cy="894"/><use href="#R" x="84" y="894"/></g>
<g id="k17-2" class="l"><ellipse cx="136" cy="894"/><use href="#R" x="136" y="894"/></g>
<g id="k17-3" class="l"><ellipse cx="188" cy="894"/><use href="#R" x="188" y="894"/></g>
<g id="k17-4" class="l"><ellipse cx="240" cy="894"/><use href="#R" x="240" y="894"/></g>
<g id="k17-5" class="l"><ellipse cx="292" cy="894"/><use href="#R" x="292" y="894"/></g>
<g id="k17-6" class="l"><ellipse cx="344" cy="894"/><use href="#R" x="344" y="894"/></g>
<g id="k17-7" class="l"><ellipse cx="396" cy="894"/><use href="#R" x="396" y="894"/></g>
<g id="k17-8" class="m"><ellipse cx="448" cy="894"/><use href="#R" x="448" y="894"/></g>
<g id="k17-9" class="m"><ellipse cx="500" cy="894"/><use href="#R" x="500" y="894"/></g>
<g id="k17-10" class="m"><ellipse cx="552" cy="894"/><use href="#R" x="552" y="894"/></g>
<g id="k17-11" class="m"><ellipse cx="604" cy="894"/><use href="#R" x="604" y="894"/></g>
<g id="k17-12" class="m"><ellipse cx="656" cy="894"/><use href="#R" x="656" y="894"/></g>
<g id="k17-13" class="m"><ellipse cx="708" cy="894"/><use href="#R" x="708" y="894"/></g>
<g id="k17-14" class="m"><ellipse cx="760" cy="894"/><use href="#R" x="760" y="894"/></g>
<g id="k18-1" class="l"><ellipse cx="84" cy="946"/><use href="#L" x="84" y="946"/></g>
<g id="k18-2" class="l"><ellipse cx="136" cy="946"/><use href="#L" x="136" y="946"/></g>
<g id="k18-3" class="l"><ellipse cx="188" cy="946"/><use href="#L" x="188" y="946"/></g>
<g id="k18-4" class="l"><ellipse cx="240" cy="946"/><use href="#L" x="240" y="946"/></g>
<g id="k18-5" class="l"><ellipse cx="292" cy="946"/><use href="#L" x="292" y="946"/></g>
<g id="k18-6" class="l"><ellipse cx="344" cy="946"/><use href="#L" x="344" y="946"/></g>
<g id="k18-7" class="l"><ellipse cx="396" cy="946"/><use href="#L" x="396" y="946"/></g>
<g id="k18-8" class="m"><ellipse cx="448" cy="946"/><use href="#L" x="448" y="946"/></g>
<g id="k18-9" class="m"><ellipse cx="500" cy="946"/><use href="#L" x="500" y="946"/></g>
<g id="k18-10" class="m"><ellipse cx="552" cy="946"/><use href="#L" x="552" y="946"/></g>
<g id="k18-11" class="m"><ellipse cx="604" cy="946"/><use href="#L" x="604" y="946"/></g>
<g id="k18-12" class="m"><ellipse cx="656" cy="946"/><use href="#L" x="656" y="946"/></g>
<g id="k18-13" class="m"><ellipse cx="708" cy="946"/><use href="#L" x="708" y="946"/></g>
<g id="k18-14" class="m"><ellipse cx="760" cy="946"/><use href="#L" x="760" y="946"/></g>
<g id="k19-1" class="l"><ellipse cx="84" cy="998"/><use href="#R" x="84" y="998"/></g>
<g id="k19-2" class="l"><ellipse cx="136" cy="998"/><use href="#R" x="136" y="998"/></g>
<g id="k19-3" class="l"><ellipse cx="188" cy="998"/><use href="#R" x="188" y="998"/></g>
<g id="k19-4" class="l"><ellipse cx="240" cy="998"/><use href="#R" x="240" y="998"/></g>
<g id="k19-5" class="l"><ellipse cx="292" cy="998"/><use href="#R" x="292" y="998"/></g>
<g id="k19-6" class="m"><ellipse cx="344" cy="998"/><use href="#R" x="344" y="998"/></g>
<g id="k19-7" class="m"><ellipse cx="396" cy="998"/><use href="#R" x="396" y="998"/></g>
<g id="k19-8" class="m"><ellipse cx="448" cy="998"/><use href="#R" x="448" y="998"/></g>
<g id="k19-9" class="m"><ellipse cx="500" cy="998"/><use href="#R" x="500" y="998"/></g>
<g id="k19-10" class="m"><ellipse cx="552" cy="998"/><use href="#R" x="552" y="998"/></g>
<g id="k19-11" class="m"><ellipse cx="604" cy="998"/><use href="#R" x="604" y="998"/></g>
<g id="k19-12" class="m"><ellipse cx="656" cy="998"/><use href="#R" x="656" y="998"/></g>
<g id="k19-13" class="m"><ellipse cx="708" cy="998"/><use href="#R" x="708" y="998"/></g>
<g id="k19-14" class="m"><ellipse cx="760" cy="998"/><use href="#R" x="760" y="998"/></g>
<g id="k20-1" class="l"><ellipse cx="84" cy="1050"/><use href="#L" x="84" y="1050"/></g>
<g id="k20-2" class="l"><ellipse cx="136" cy="1050"/><use href="#L" x="136" y="1050"/></g>
<g id="k20-3" class="l"><ellipse cx="188" cy="1050"/><use href="#L" x="188" y="1050"/></g>
<g id="k20-4" class="m"><ellipse cx="240" cy="1050"/><use href="#L" x="240" y="1050"/></g>
<g id="k20-5" class="m"><ellipse cx="292" cy="1050"/><use href="#L" x="292" y="1050"/></g>
<g id="k20-6" class="m"><ellipse cx="344" cy="1050"/><use href="#L" x="344" y="1050"/></g>
<g id="k20-7" class="m"><ellipse cx="396" cy="1050"/><use href="#L" x="396" y="1050"/></g>
<g id="k20-8" class="m"><ellipse cx="448" cy="1050"/><use href="#L" x="448" y="1050"/></g>
<g id="k20-9" class="m"><ellipse cx="500" cy="1050"/><use href="#L" x="500" y="1050"/></g>
<g id="k20-10" class="m"><ellipse cx="552" cy="1050"/><use href="#L" x="552" y="1050"/></g>
<g id="k20-11" class="m"><ellipse cx="604" cy="1050"/><use href="#L" x="604" y="1050"/></g>
<g id="k20-12" class="m"><ellipse cx="656" cy="1050"/><use href="#L" x="656" y="1050"/></g>
<g id="k20-13" class="m"><ellipse cx="708" cy="1050"/><use href="#L" x="708" y="1050"/></g>
<g id="k20-14" class="m"><ellipse cx="760" cy="1050"/><use href="#L" x="760" y="1050"/></g>
</g>
<g id="row-labels" class="rl">
<text x="21" y="66" text-anchor="end">1</text><text x="21" y="118" text-anchor="end">2</text><text x="21" y="170" text-anchor="end">3</text><text x="21" y="222" text-anchor="end">4</text><text x="21" y="274" text-anchor="end">5</text><text x="21" y="326" text-anchor="end">6</text><text x="21" y="378" text-anchor="end">7</text><text x="21" y="430" text-anchor="end">8</text><text x="21" y="482" text-anchor="end">9</text><text x="21" y="534" text-anchor="end">10</text><text x="21" y="586" text-anchor="end">11</text><text x="21" y="638" text-anchor="end">12</text><text x="21" y="690" text-anchor="end">13</text><text x="21" y="742" text-anchor="end">14</text><text x="21" y="794" text-anchor="end">15</text><text x="21" y="846" text-anchor="end">16</text><text x="21" y="898" text-anchor="end">17</text><text x="21" y="950" text-anchor="end">18</text><text x="21" y="1002" text-anchor="end">19</text><text x="21" y="1054" text-anchor="end">20</text>
<text x="821" y="66">1</text><text x="821" y="118">2</text><text x="821" y="170">3</text><text x="821" y="222">4</text><text x="821" y="274">5</text><text x="821" y="326">6</text><text x="821" y="378">7</text><text x="821" y="430">8</text><text x="821" y="482">9</text><text x="821" y="534">10</text><text x="821" y="586">11</text><text x="821" y="638">12</text><text x="821" y="690">13</text><text x="821" y="742">14</text><text x="821" y="794">15</text><text x="821" y="846">16</text><text x="821" y="898">17</text><text x="821" y="950">18</text><text x="821" y="1002">19</text><text x="821" y="1054">20</text>
</g>
<text id="watermark" x="422" y="561" text-anchor="middle" font-family="'Liberation Sans',Arial,sans-serif" font-weight="bold" font-size="14" fill="#333" stroke="#fff" stroke-width="2.5" paint-order="stroke">BRACELETBOOK.COM</text>
</svg>
